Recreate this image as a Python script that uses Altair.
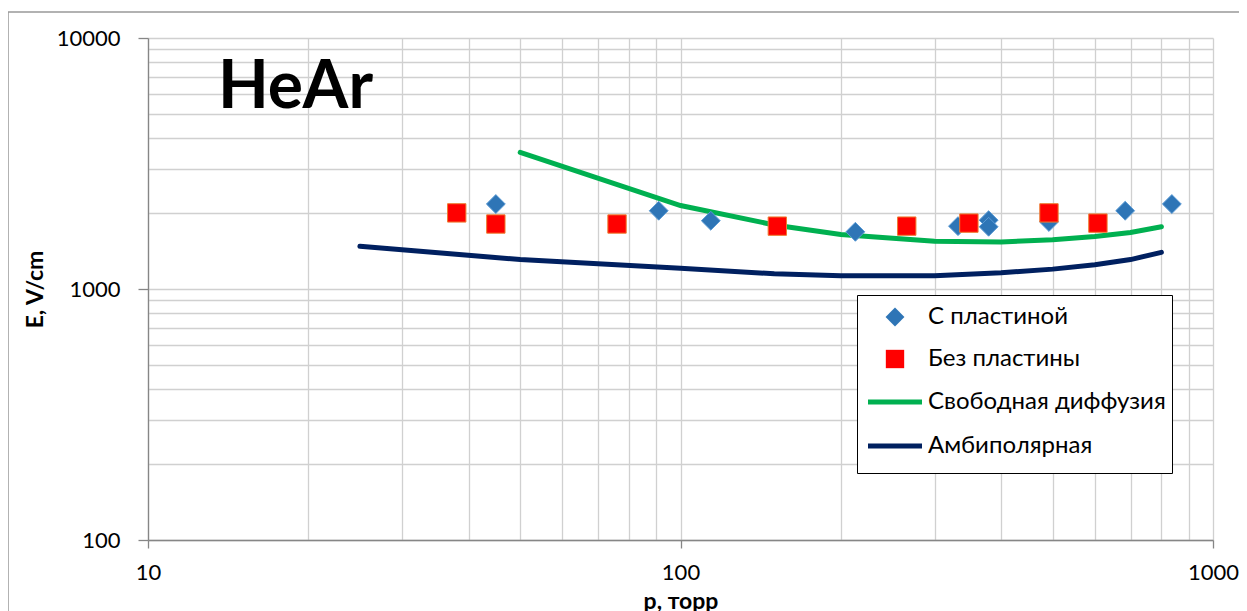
import altair as alt
import pandas as pd

# ---------------- data ----------------
S = ["С пластиной", "Без пластины", "Свободная диффузия", "Амбиполярная"]

with_p = [45, 91, 114, 213, 332, 379, 379, 492, 684, 837]
with_E = [2180, 2050, 1870, 1690, 1780, 1880, 1770, 1850, 2050, 2180]

without_p = [38, 45, 76, 152, 266, 348, 492, 608]
without_E = [2010, 1815, 1815, 1780, 1780, 1830, 2010, 1830]

free_p = [50, 100, 150, 200, 300, 400, 500, 600, 700, 800]
free_E = [3500, 2150, 1800, 1650, 1550, 1540, 1570, 1620, 1680, 1770]

ambi_p = [25, 50, 100, 150, 200, 300, 400, 500, 600, 700, 800]
ambi_E = [1480, 1310, 1210, 1150, 1130, 1130, 1160, 1200, 1250, 1310, 1400]

x_major = [10, 100, 1000]
y_major = [100, 1000, 10000]

# ---------------- tables ----------------
df_with = pd.DataFrame({"series": S[0], "p": with_p, "E": with_E})
df_without = pd.DataFrame({"series": S[1], "p": without_p, "E": without_E})
df_free = pd.DataFrame({"series": S[2], "p": free_p, "E": free_E})
df_ambi = pd.DataFrame({"series": S[3], "p": ambi_p, "E": ambi_E})

x_vals = [m * 10 ** k for k in (1, 2) for m in range(1, 10)] + [1000]
y_vals = [m * 10 ** k for k in (2, 3) for m in range(1, 10)] + [10000]

FONT = "Lato"

def major_test(lst):
    return "indexof([" + ",".join(str(v) for v in lst) + "], datum.value) >= 0"

x_axis = alt.Axis(
    values=x_vals, format="d",
    labelExpr=major_test(x_major) + " ? datum.label : ''",
    grid=True, gridColor="#d0d0d0", gridWidth=1.3,
    domainColor="#868686", domainWidth=1.3,
    tickColor="#868686", tickWidth=1.3, tickSize=8,
    tickOpacity={"condition": {"test": major_test(x_major), "value": 1}, "value": 0},
    labelFont=FONT, labelFontSize=22, labelColor="black", labelPadding=14,
    labelOverlap=False, labelFlush=False,
    title="p, торр", titleFont=FONT, titleFontSize=23, titleFontWeight="bold",
    titleColor="black", titlePadding=7,
)
y_axis = alt.Axis(
    values=y_vals, format="d",
    labelExpr=major_test(y_major) + " ? datum.label : ''",
    grid=True, gridColor="#d0d0d0", gridWidth=1.3,
    domainColor="#868686", domainWidth=1.3,
    tickColor="#868686", tickWidth=1.3, tickSize=10,
    tickOpacity={"condition": {"test": major_test(y_major), "value": 1}, "value": 0},
    labelFont=FONT, labelFontSize=22, labelColor="black", labelPadding=18,
    labelOverlap=False, labelFlush=False,
    title="E, V/cm", titleFont=FONT, titleFontSize=23, titleFontWeight="bold",
    titleColor="black", titlePadding=9,
)

xs = alt.Scale(type="log", domain=[10, 1000], nice=False)
ys = alt.Scale(type="log", domain=[100, 10000], nice=False)

# symbol paths (unit box -1..1, scaled by sqrt(size)/2)
DIAMOND = "M-0.7,0L0,-0.7L0.7,0L0,0.7Z"
SQUARE = "M-0.68,-0.68L0.68,-0.68L0.68,0.68L-0.68,0.68Z"
LINE = "M-2,0L2,0M0,-0.8M0,0.8"
SYM_SIZE = 729

fill_scale = alt.Scale(domain=S, range=["#2E75B6", "#FF0000", "transparent", "transparent"])
stroke_scale = alt.Scale(domain=S, range=["transparent", "transparent", "#00B050", "#002060"])
shape_scale = alt.Scale(domain=S, range=[DIAMOND, SQUARE, LINE, LINE])

X = alt.X("p:Q", scale=xs, axis=x_axis)
Y = alt.Y("E:Q", scale=ys, axis=y_axis)
LEG = alt.Legend(title=None)

def line_layer(df):
    return alt.Chart(df).mark_line(strokeWidth=5, strokeCap="round").encode(
        x=X, y=Y,
        stroke=alt.Stroke("series:N", scale=stroke_scale, legend=LEG),
    )

def point_layer(df, outline):
    return alt.Chart(df).mark_point(
        filled=True, opacity=1, stroke=outline, strokeWidth=1, size=SYM_SIZE
    ).encode(
        x=X, y=Y,
        fill=alt.Fill("series:N", scale=fill_scale, legend=LEG),
        shape=alt.Shape("series:N", scale=shape_scale, legend=LEG),
    )

label = alt.Chart(pd.DataFrame({"t": ["HeAr"]})).mark_text(
    font=FONT, fontSize=66, fontWeight="bold", color="black",
    align="left", baseline="alphabetic",
).encode(text="t:N", x=alt.value(70), y=alt.value(70))

frame_left = alt.Chart(pd.DataFrame({"a": [0]})).mark_rule(color="#999999", strokeWidth=1.5).encode(
    x=alt.value(-140), y=alt.value(-26), y2=alt.value(620)
)
frame_top = alt.Chart(pd.DataFrame({"a": [0]})).mark_rule(color="#999999", strokeWidth=1.5).encode(
    x=alt.value(-140), x2=alt.value(1200), y=alt.value(-26)
)

chart = alt.layer(
    frame_left, frame_top,
    line_layer(df_free), line_layer(df_ambi),
    point_layer(df_with, "#5B9BD5"), point_layer(df_without, "#ED7D31"),
    label,
).properties(
    width=1065, height=502,
    autosize=alt.AutoSizeParams(type="none"),
    padding={"left": 140, "top": 30, "right": 26, "bottom": 75},
).configure_view(stroke=None).configure_legend(
    orient="none", legendX=709, legendY=257,
    strokeColor="black", fillColor="white", padding=6,
    labelFont=FONT, labelFontSize=24, labelColor="black", labelLimit=400,
    labelOffset=17, symbolOffset=16, rowPadding=2, symbolSize=SYM_SIZE,
    symbolStrokeWidth=5, symbolOpacity=1, cornerRadius=0,
)

chart.save("out.html", embed_options={"renderer": "svg", "actions": False})
